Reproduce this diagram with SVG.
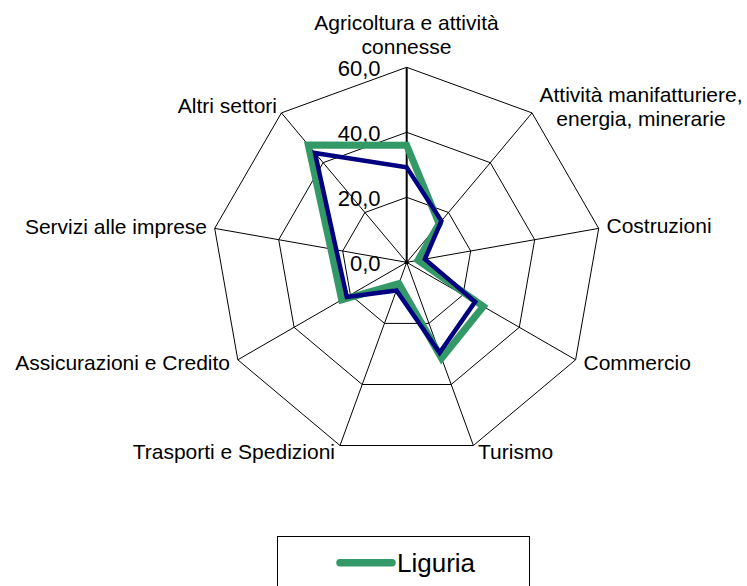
<svg xmlns="http://www.w3.org/2000/svg" width="747" height="586" viewBox="0 0 747 586">
<style>
text{font-family:"Liberation Sans",Arial,sans-serif;fill:#000}
.lbl{font-size:21px}
.num{font-size:22px;text-anchor:end}
.grid{fill:none;stroke:#000;stroke-width:1}
.spoke{stroke:#000;stroke-width:1}
</style>
<rect width="747" height="586" fill="#fff"/>
<g id="grid">
<polygon class="grid" points="406.7,197.3 448.5,212.5 470.7,251.0 463.0,294.8 428.9,323.4 384.5,323.4 350.4,294.8 342.7,251.0 364.9,212.5"/>
<polygon class="grid" points="406.7,132.3 490.3,162.7 534.7,239.7 519.3,327.3 451.2,384.5 362.2,384.5 294.1,327.3 278.7,239.7 323.1,162.7"/>
<polygon class="grid" points="406.7,67.3 532.0,112.9 598.7,228.4 575.6,359.8 473.4,445.5 340.0,445.5 237.8,359.8 214.7,228.4 281.4,112.9"/>
<line class="spoke" x1="406.7" y1="262.3" x2="532.0" y2="112.9"/>
<line class="spoke" x1="406.7" y1="262.3" x2="598.7" y2="228.4"/>
<line class="spoke" x1="406.7" y1="262.3" x2="575.6" y2="359.8"/>
<line class="spoke" x1="406.7" y1="262.3" x2="473.4" y2="445.5"/>
<line class="spoke" x1="406.7" y1="262.3" x2="340.0" y2="445.5"/>
<line class="spoke" x1="406.7" y1="262.3" x2="237.8" y2="359.8"/>
<line class="spoke" x1="406.7" y1="262.3" x2="214.7" y2="228.4"/>
<line class="spoke" x1="406.7" y1="262.3" x2="281.4" y2="112.9"/>
<line x1="406.7" y1="262.3" x2="406.7" y2="67.3" stroke="#000" stroke-width="2"/>
<circle cx="406.7" cy="262.3" r="2" fill="#000"/>
</g>
<g id="scale">
<text class="num" x="380.5" y="76">60,0</text>
<text class="num" x="380.5" y="141">40,0</text>
<text class="num" x="380.5" y="206">20,0</text>
<text class="num" x="380.5" y="271">0,0</text>
</g>
<g id="series">
<polygon id="liguria" fill="none" stroke="#339966" stroke-width="7" stroke-linejoin="miter" points="406.7,145.3 439.1,223.7 417.9,260.3 483.3,306.5 441.6,358.2 398.9,283.7 341.7,299.8 330.9,249.0 308.3,145.0"/>
<polygon id="italia" fill="none" stroke="#000080" stroke-width="4.5" stroke-linejoin="miter" points="406.7,167.4 441.4,220.9 424.9,259.1 475.1,301.8 439.6,352.7 396.5,290.4 346.8,296.9 336.3,249.9 315.0,153.0"/>
</g>
<g id="labels" class="lbl">
<text class="lbl" x="406.5" y="30" text-anchor="middle">Agricoltura e attività</text>
<text class="lbl" x="406.5" y="53.5" text-anchor="middle">connesse</text>
<text class="lbl" x="641" y="102" text-anchor="middle">Attività manifatturiere,</text>
<text class="lbl" x="641" y="126" text-anchor="middle">energia, minerarie</text>
<text class="lbl" x="606.5" y="233">Costruzioni</text>
<text class="lbl" x="583.5" y="370">Commercio</text>
<text class="lbl" x="478" y="459">Turismo</text>
<text class="lbl" x="335" y="459" text-anchor="end">Trasporti e Spedizioni</text>
<text class="lbl" x="230" y="370" text-anchor="end">Assicurazioni e Credito</text>
<text class="lbl" x="207" y="234" text-anchor="end">Servizi alle imprese</text>
<text class="lbl" x="277" y="113" text-anchor="end">Altri settori</text>
</g>
<g id="legend">
<rect x="277.5" y="536.5" width="252" height="60" fill="#fff" stroke="#000" stroke-width="1"/>
<line x1="340" y1="562.7" x2="392" y2="562.7" stroke="#339966" stroke-width="7.5" stroke-linecap="round"/>
<text x="397" y="572" font-size="26">Liguria</text>
</g>
</svg>
